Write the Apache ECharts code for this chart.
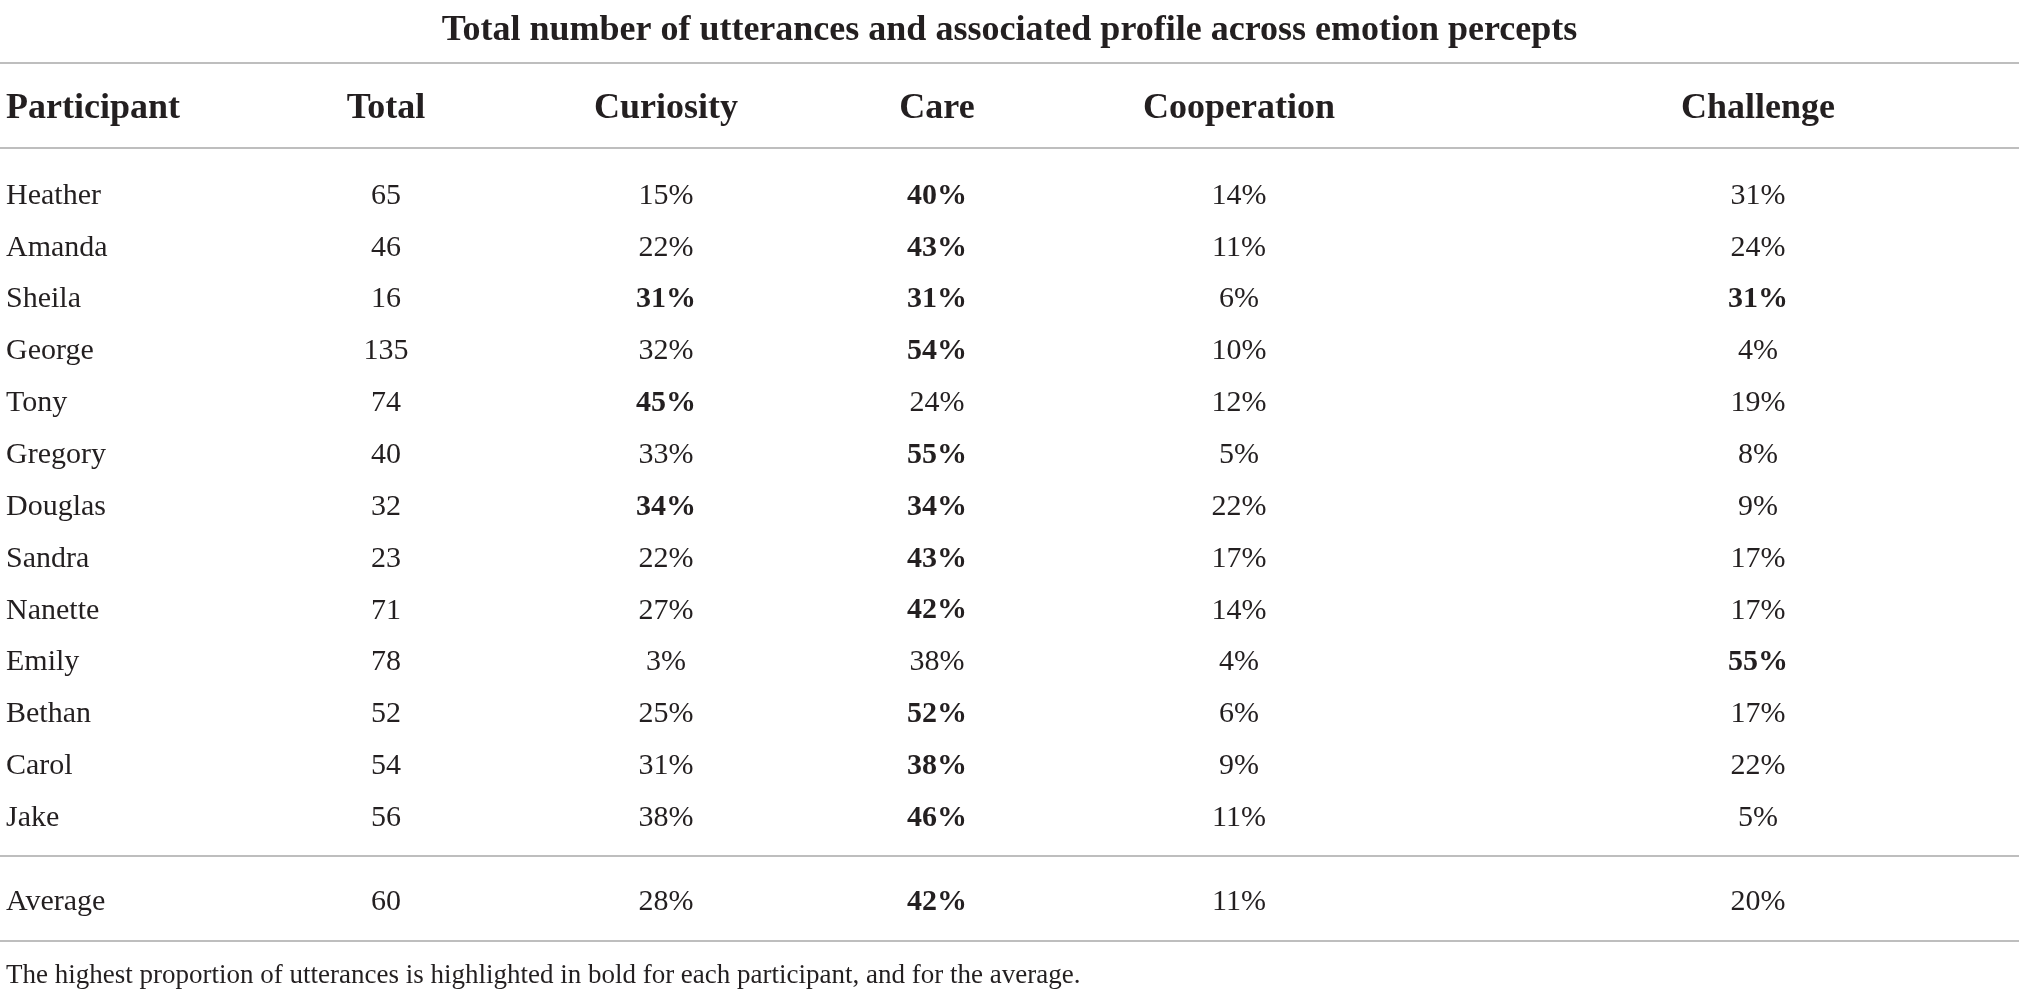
<!DOCTYPE html>
<html>
<head>
<meta charset="utf-8">
<script src="https://cdn.jsdelivr.net/npm/echarts@6/dist/echarts.min.js"></script>
<style>
html,body{margin:0;padding:0;background:#fff;}
#chart{width:2019px;height:994px;}
</style>
</head>
<body>
<div id="chart"></div>
<script>
// ---------- data ----------
const titleText = 'Total number of utterances and associated profile across emotion percepts';
const footnoteText = 'The highest proportion of utterances is highlighted in bold for each participant, and for the average.';
const headers = ['Participant', 'Total', 'Curiosity', 'Care', 'Cooperation', 'Challenge'];
const participants = ['Heather','Amanda','Sheila','George','Tony','Gregory','Douglas','Sandra','Nanette','Emily','Bethan','Carol','Jake'];
const totals      = [65, 46, 16, 135, 74, 40, 32, 23, 71, 78, 52, 54, 56];
const curiosity   = [15, 22, 31, 32, 45, 33, 34, 22, 27, 3, 25, 31, 38];
const care        = [40, 43, 31, 54, 24, 55, 34, 43, 42, 38, 52, 38, 46];
const cooperation = [14, 11, 6, 10, 12, 5, 22, 17, 14, 4, 6, 9, 11];
const challenge   = [31, 24, 31, 4, 19, 8, 9, 17, 17, 55, 17, 22, 5];
const averageLabel = 'Average';
const averageTotal = 60;
const averagePercents = [28, 42, 11, 20]; // curiosity, care, cooperation, challenge

// ---------- layout / style ----------
const W = 2019;
const colX = [6, 386, 666, 937, 1239, 1758];
const FONT = 'Liberation Serif';
const TXT = '#231f20';
const RULE = '#a8a8a8';
const bodySize = 30;
const headSize = 36;

const percentCols = [curiosity, care, cooperation, challenge];

function hiddenX(gridIndex, position, showLine) {
  return {
    type: 'value', gridIndex: gridIndex, position: position, min: 0, max: W,
    axisLine: { show: showLine, onZero: false, lineStyle: { color: RULE, width: 1.6 } },
    axisTick: { show: false }, axisLabel: { show: false }, splitLine: { show: false }
  };
}
function catY(gridIndex, data) {
  return {
    type: 'category', gridIndex: gridIndex, data: data, inverse: true,
    axisLine: { show: false }, axisTick: { show: false }, splitLine: { show: false },
    axisLabel: { show: false }
  };
}
function textSeries(xAxisIndex, yAxisIndex, items, size, shift) {
  return {
    type: 'scatter', xAxisIndex: xAxisIndex, yAxisIndex: yAxisIndex,
    symbolSize: 0, silent: true, animation: false,
    itemStyle: { opacity: 1 },
    data: items.map(it => ({
      value: [it.x, it.y],
      label: { show: true, position: 'inside', offset: [0, shift], formatter: it.text, color: TXT,
        align: it.left ? 'left' : 'center', verticalAlign: 'middle',
        opacity: 1, fontFamily: FONT, fontSize: size, fontWeight: it.bold ? 'bold' : 'normal' }
    }))
  };
}

// header cells
const headerItems = headers.map((h, i) => ({ x: colX[i], y: 0, text: h, bold: true, left: i === 0 }));

// body cells
const bodyItems = [];
participants.forEach((p, r) => {
  bodyItems.push({ x: colX[0], y: r, text: p, bold: false, left: true });
  bodyItems.push({ x: colX[1], y: r, text: String(totals[r]), bold: false });
  const vals = percentCols.map(col => col[r]);
  const mx = Math.max.apply(null, vals);
  vals.forEach((v, c) => {
    bodyItems.push({ x: colX[c + 2], y: r, text: v + '%', bold: v === mx });
  });
});

// average cells
const avgItems = [
  { x: colX[0], y: 0, text: averageLabel, bold: false, left: true },
  { x: colX[1], y: 0, text: String(averageTotal), bold: false }
];
const avgMax = Math.max.apply(null, averagePercents);
averagePercents.forEach((v, c) => {
  avgItems.push({ x: colX[c + 2], y: 0, text: v + '%', bold: v === avgMax });
});

const chart = echarts.init(document.getElementById('chart'), null, { renderer: 'canvas' });
chart.setOption({
  backgroundColor: '#fff',
  animation: false,
  title: [
    { text: titleText, left: 'center', top: 8,
      textStyle: { fontFamily: FONT, fontSize: 36, fontWeight: 'bold', color: TXT } },
    { text: footnoteText, left: 1, top: 957,
      textStyle: { fontFamily: FONT, fontSize: 27, fontWeight: 'normal', color: TXT } }
  ],
  grid: [
    { left: 0, width: W, top: 63, height: 85 },
    { left: 0, width: W, top: 167, height: 674 },
    { left: 0, width: W, top: 856, height: 85 }
  ],
  xAxis: [
    hiddenX(0, 'top', true),
    hiddenX(0, 'bottom', true),
    hiddenX(1, 'bottom', false),
    hiddenX(2, 'top', true),
    hiddenX(2, 'bottom', true)
  ],
  yAxis: [
    catY(0, [headers[0]]),
    catY(1, participants),
    catY(2, [averageLabel])
  ],
  series: [
    textSeries(1, 0, headerItems, headSize, 3),
    textSeries(2, 1, bodyItems, bodySize, 3),
    textSeries(4, 2, avgItems, bodySize, 4)
  ]
});
</script>
</body>
</html>
